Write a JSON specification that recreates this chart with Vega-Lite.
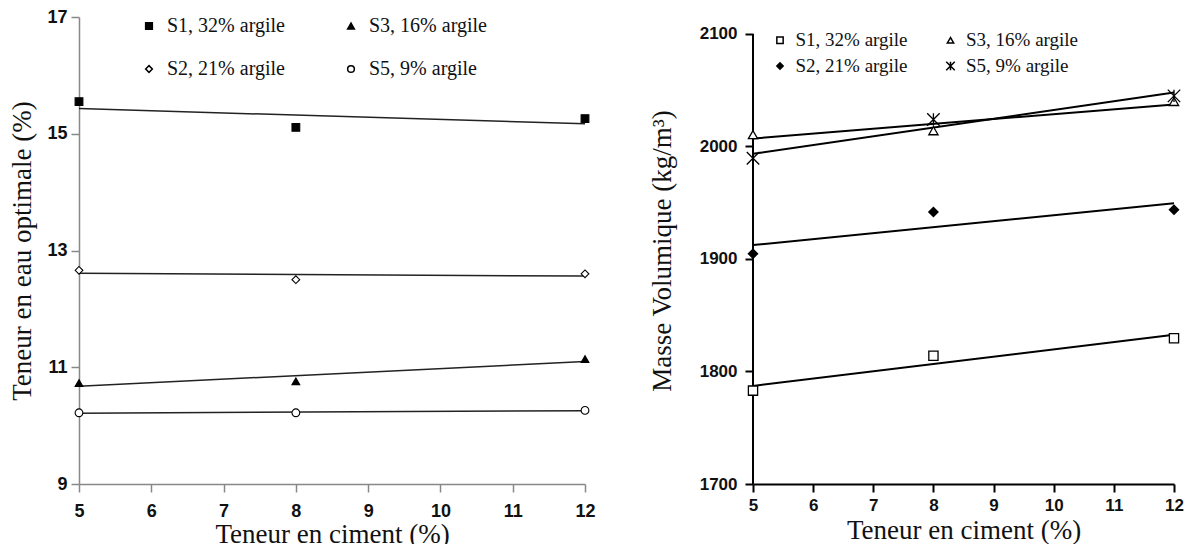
{
  "$schema": "https://vega.github.io/schema/vega-lite/v6.json",
  "padding": {"left": 8, "top": 8, "right": 5, "bottom": 0},
  "background": "white",
  "spacing": 52,
  "config": {
    "view": {"stroke": null},
    "axis": {
      "grid": false,
      "labelFont": "Liberation Sans",
      "labelFontWeight": "bold",
      "labelColor": "#111",
      "titleFont": "Liberation Serif",
      "titleFontWeight": "normal",
      "titleFontSize": 27,
      "titleColor": "#111",
      "tickSize": 8
    },
    "legend": {"padding": 0}
  },
  "datasets": {
    "eau": [
      {"ciment": 5, "valeur": 15.55, "serie": "S1, 32% argile"},
      {"ciment": 8, "valeur": 15.11, "serie": "S1, 32% argile"},
      {"ciment": 12, "valeur": 15.26, "serie": "S1, 32% argile"},
      {"ciment": 5, "valeur": 12.66, "serie": "S2, 21% argile"},
      {"ciment": 8, "valeur": 12.50, "serie": "S2, 21% argile"},
      {"ciment": 12, "valeur": 12.60, "serie": "S2, 21% argile"},
      {"ciment": 5, "valeur": 10.73, "serie": "S3, 16% argile"},
      {"ciment": 8, "valeur": 10.76, "serie": "S3, 16% argile"},
      {"ciment": 12, "valeur": 11.14, "serie": "S3, 16% argile"},
      {"ciment": 5, "valeur": 10.22, "serie": "S5, 9% argile"},
      {"ciment": 8, "valeur": 10.22, "serie": "S5, 9% argile"},
      {"ciment": 12, "valeur": 10.26, "serie": "S5, 9% argile"}
    ],
    "masse": [
      {"ciment": 5, "valeur": 1783, "serie": "S1, 32% argile"},
      {"ciment": 8, "valeur": 1814, "serie": "S1, 32% argile"},
      {"ciment": 12, "valeur": 1829.5, "serie": "S1, 32% argile"},
      {"ciment": 5, "valeur": 1904.7, "serie": "S2, 21% argile"},
      {"ciment": 8, "valeur": 1941.8, "serie": "S2, 21% argile"},
      {"ciment": 12, "valeur": 1943.8, "serie": "S2, 21% argile"},
      {"ciment": 5, "valeur": 2010.5, "serie": "S3, 16% argile"},
      {"ciment": 8, "valeur": 2014, "serie": "S3, 16% argile"},
      {"ciment": 12, "valeur": 2040, "serie": "S3, 16% argile"},
      {"ciment": 5, "valeur": 1989.5, "serie": "S5, 9% argile"},
      {"ciment": 8, "valeur": 2024, "serie": "S5, 9% argile"},
      {"ciment": 12, "valeur": 2045, "serie": "S5, 9% argile"}
    ]
  },
  "resolve": {
    "scale": {"shape": "independent", "fill": "independent", "x": "independent", "y": "independent"},
    "legend": {"shape": "independent", "fill": "independent"}
  },
  "hconcat": [
    {
      "width": 506,
      "height": 467,
      "data": {"name": "eau"},
      "encoding": {
        "x": {
          "field": "ciment", "type": "quantitative",
          "scale": {"domain": [5, 12], "nice": false, "zero": false},
          "axis": {
            "title": "Teneur en ciment (%)",
            "values": [5, 6, 7, 8, 9, 10, 11, 12],
            "labelFontSize": 18, "labelPadding": 10, "titlePadding": 1,
            "domainColor": "#888", "tickColor": "#888", "domainWidth": 1.5, "tickWidth": 1.5,
            "labelFlush": false
          }
        },
        "y": {
          "field": "valeur", "type": "quantitative",
          "scale": {"domain": [9, 17], "nice": false, "zero": false},
          "axis": {
            "title": "Teneur en eau optimale (%)",
            "values": [9, 11, 13, 15, 17],
            "labelFontSize": 18, "labelPadding": 4, "titlePadding": 10,
            "domainColor": "#888", "tickColor": "#888", "domainWidth": 1.5, "tickWidth": 1.5,
            "labelFlush": false
          }
        }
      },
      "layer": [
        {
          "transform": [{"regression": "valeur", "on": "ciment", "groupby": ["serie"]}],
          "mark": {"type": "line", "color": "#222", "strokeWidth": 1.5},
          "encoding": {"detail": {"field": "serie"}}
        },
        {
          "mark": {"type": "point", "filled": true, "stroke": "black", "strokeWidth": 1.1, "opacity": 1, "size": 60},
          "encoding": {
            "shape": {
              "field": "serie", "type": "nominal",
              "scale": {
                "domain": ["S1, 32% argile", "S2, 21% argile", "S3, 16% argile", "S5, 9% argile"],
                "range": ["square", "diamond", "triangle-up", "circle"]
              },
              "legend": {
                "title": null, "orient": "none", "legendX": 60, "legendY": -1,
                "columns": 2, "columnPadding": 56, "rowPadding": 23,
                "labelFont": "Liberation Serif", "labelFontSize": 20, "labelColor": "#111",
                "labelOffset": 8, "symbolSize": 45,
                "encode": {"symbols": {"update": {"stroke": {"value": "black"}, "strokeWidth": {"value": 1}}}}
              }
            },
            "fill": {
              "field": "serie", "type": "nominal",
              "scale": {
                "domain": ["S1, 32% argile", "S2, 21% argile", "S3, 16% argile", "S5, 9% argile"],
                "range": ["black", "white", "black", "white"]
              },
              "legend": {
                "title": null, "orient": "none", "legendX": 60, "legendY": -1,
                "columns": 2, "columnPadding": 56, "rowPadding": 23,
                "labelFont": "Liberation Serif", "labelFontSize": 20, "labelColor": "#111",
                "labelOffset": 8, "symbolSize": 45,
                "encode": {"symbols": {"update": {"stroke": {"value": "black"}, "strokeWidth": {"value": 1}}}}
              }
            }
          }
        }
      ]
    },
    {
      "width": 421,
      "height": 467,
      "data": {"name": "masse"},
      "encoding": {
        "x": {
          "field": "ciment", "type": "quantitative",
          "scale": {"domain": [5, 12], "nice": false, "zero": false},
          "axis": {
            "title": "Teneur en ciment (%)",
            "values": [5, 6, 7, 8, 9, 10, 11, 12],
            "labelFontSize": 17, "labelPadding": 5, "titlePadding": 4,
            "domainColor": "black", "tickColor": "black", "domainWidth": 2, "tickWidth": 2,
            "labelFlush": false
          }
        },
        "y": {
          "field": "valeur", "type": "quantitative",
          "scale": {"domain": [1700, 2115.1], "nice": false, "zero": false},
          "axis": {
            "title": "Masse Volumique (kg/m³)",
            "values": [1700, 1800, 1900, 2000, 2100],
            "format": "d",
            "domain": false,
            "labelFontSize": 17, "labelPadding": 8, "titlePadding": 23,
            "tickColor": "black", "tickWidth": 2,
            "labelFlush": false
          }
        }
      },
      "layer": [
        {
          "mark": {"type": "rule", "color": "black", "strokeWidth": 2},
          "encoding": {
            "x": {"datum": 5},
            "y": {"datum": 1700},
            "y2": {"datum": 2100}
          }
        },
        {
          "transform": [{"regression": "valeur", "on": "ciment", "groupby": ["serie"]}],
          "mark": {"type": "line", "color": "black", "strokeWidth": 2},
          "encoding": {"detail": {"field": "serie"}}
        },
        {
          "mark": {"type": "point", "filled": true, "stroke": "black", "strokeWidth": 1.3, "opacity": 1, "size": 85},
          "encoding": {
            "shape": {
              "field": "serie", "type": "nominal",
              "scale": {
                "domain": ["S1, 32% argile", "S2, 21% argile", "S3, 16% argile", "S5, 9% argile"],
                "range": ["square", "diamond", "triangle-up", "M-1.35,-1.35L1.35,1.35M-1.35,1.35L1.35,-1.35M0,-1.35L0,1.35"]
              },
              "legend": {
                "title": null, "orient": "none", "legendX": 17.5, "legendY": 13.5,
                "columns": 2, "columnPadding": 32.5, "rowPadding": 6,
                "labelFont": "Liberation Serif", "labelFontSize": 19, "labelColor": "#111",
                "labelOffset": 6, "symbolSize": 40,
                "encode": {"symbols": {"update": {"stroke": {"value": "black"}, "strokeWidth": {"value": 1}}}}
              }
            },
            "fill": {
              "field": "serie", "type": "nominal",
              "scale": {
                "domain": ["S1, 32% argile", "S2, 21% argile", "S3, 16% argile", "S5, 9% argile"],
                "range": ["white", "black", "white", "white"]
              },
              "legend": {
                "title": null, "orient": "none", "legendX": 17.5, "legendY": 13.5,
                "columns": 2, "columnPadding": 32.5, "rowPadding": 6,
                "labelFont": "Liberation Serif", "labelFontSize": 19, "labelColor": "#111",
                "labelOffset": 6, "symbolSize": 40,
                "encode": {"symbols": {"update": {"stroke": {"value": "black"}, "strokeWidth": {"value": 1}}}}
              }
            }
          }
        }
      ]
    }
  ]
}
